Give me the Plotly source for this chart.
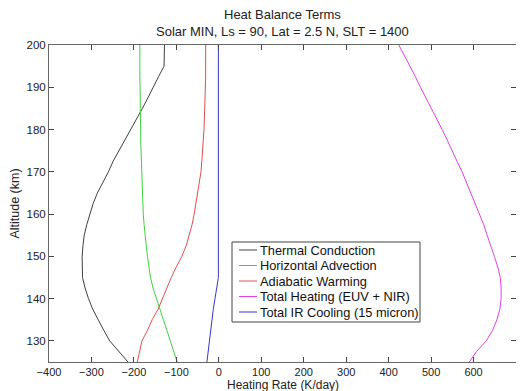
import plotly.graph_objects as go

altitude = [125, 127.5, 130, 132.5, 135, 137.5, 140, 142.5, 145, 147.5, 150, 152.5, 155, 157.5,
            160, 162.5, 165, 167.5, 170, 172.5, 175, 177.5, 180, 182.5, 185, 187.5, 190, 192.5,
            195, 197.5, 200]

thermal_conduction = [-214, -236, -257, -271, -284, -297, -307, -315, -321, -322, -322, -320, -317, -311,
                      -304, -296, -286, -273, -260, -249, -235, -221, -206, -192, -180, -167, -155, -142,
                      -129, -128, -128]
horizontal_advection = [-98, -106, -114, -122, -130, -139, -147, -155, -161, -165, -168, -171, -174, -176,
                        -178, -179, -180, -181, -182, -183, -183, -184, -184, -185, -185, -185, -186, -186,
                        -186, -186, -186]
adiabatic_warming = [-192, -186, -181, -168, -157, -143, -133, -122, -112, -100, -87, -77, -70, -63,
                     -58, -54, -51, -46, -42, -40, -38, -36, -35, -34, -33, -32, -32, -31,
                     -31, -31, -31]
total_heating = [590, 607, 630, 645, 655, 662, 665, 665, 663, 657, 649, 640, 632, 624,
                 614, 603, 593, 583, 573, 561, 550, 538, 526, 513, 501, 488, 475, 463,
                 450, 437, 424]
ir_cooling = [-28, -25, -23, -20.7, -17, -13, -9, -5, -1, -1, -1, -1, -1, -1,
              -1, -1, -1, -1, -1, -1, -1, -1, -1, -1, -1, -1, -1, -1,
              -1, -1, -1]

series_names = ["Thermal Conduction", "Horizontal Advection", "Adiabatic Warming",
                "Total Heating (EUV + NIR)", "Total IR Cooling (15 micron)"]
series_values = [thermal_conduction, horizontal_advection, adiabatic_warming, total_heating, ir_cooling]
series_colors = ["#404040", "#40d040", "#e05050", "#e040e0", "#3535d0"]

title_lines = ["Heat Balance Terms", "Solar MIN, Ls = 90, Lat = 2.5 N, SLT = 1400"]
x_title = "Heating Rate (K/day)"
y_title = "Altitude (km)"

# page body has an 8px margin, so the figure is drawn 8px right / 8px down
OFF = 8
W, H = 524 - OFF, 391 - OFF
ML, MR, MT, MB = 49 - OFF, 8, 45 - OFF, 29
PW, PH = W - ML - MR, H - MT - MB
SL, ST = ML + OFF, MT + OFF  # plot-area origin in screen pixels


def px(xp):
    return (xp - SL) / PW


def py(yp):
    return 1 - (yp - ST) / PH


fig = go.Figure()
for name, vals, color in zip(series_names, series_values, series_colors):
    fig.add_trace(go.Scatter(x=vals, y=altitude, mode="lines", name=name,
                             line=dict(color=color, width=1), showlegend=False))

font = "Liberation Sans, Arial, sans-serif"

# compact legend box as in the reference
shapes = [dict(type="rect", xref="paper", yref="paper", x0=px(232), x1=px(420), y0=py(322), y1=py(242),
               line=dict(color="#444", width=1), fillcolor="white", layer="above")]
annotations = []
for i, (name, color) in enumerate(zip(series_names, series_colors)):
    yy = 250 + i * 15.5
    shapes.append(dict(type="line", xref="paper", yref="paper", x0=px(239), x1=px(257),
                       y0=py(yy), y1=py(yy), line=dict(color=color, width=1), layer="above"))
    annotations.append(dict(xref="paper", yref="paper", x=px(258), y=py(yy), xanchor="left",
                            yanchor="middle", text=name, showarrow=False,
                            font=dict(family=font, size=12.8, color="#111")))

# title lines and x-axis title placed where the reference has them
for text, yy in zip(title_lines, [15, 31]):
    annotations.append(dict(xref="paper", yref="paper", x=0.5, y=py(yy), xanchor="center",
                            yanchor="middle", text=text, showarrow=False,
                            font=dict(family=font, size=13, color="#222")))
annotations.append(dict(xref="paper", yref="paper", x=0.5, y=py(384.5), xanchor="center",
                        yanchor="middle", text=x_title, showarrow=False, borderpad=0,
                        font=dict(family=font, size=12, color="#222")))

fig.update_layout(
    width=W, height=H,
    margin=dict(l=ML, r=MR, t=MT, b=MB),
    paper_bgcolor="white", plot_bgcolor="white",
    font=dict(family=font, size=11, color="#222"),
    showlegend=False,
    shapes=shapes, annotations=annotations,
    xaxis=dict(range=[-400, 700], tickvals=[-400, -300, -200, -100, 0, 100, 200, 300, 400, 500, 600, 700],
               ticks="inside", ticklen=5, tickcolor="#444", showline=True, linecolor="#666",
               linewidth=1, mirror="ticks", showgrid=False, zeroline=False, automargin=False,
               tickfont=dict(size=11, color="#222")),
    yaxis=dict(range=[125, 200], tickvals=[130, 140, 150, 160, 170, 180, 190, 200],
               ticks="inside", ticklen=5, tickcolor="#444", showline=True, linecolor="#666",
               linewidth=1, mirror="ticks", showgrid=False, zeroline=False, automargin=False,
               tickfont=dict(size=11.5, color="#222"),
               title=dict(text=y_title, font=dict(size=12.5, color="#222"), standoff=4)),
)

fig.write_html("out.html")
